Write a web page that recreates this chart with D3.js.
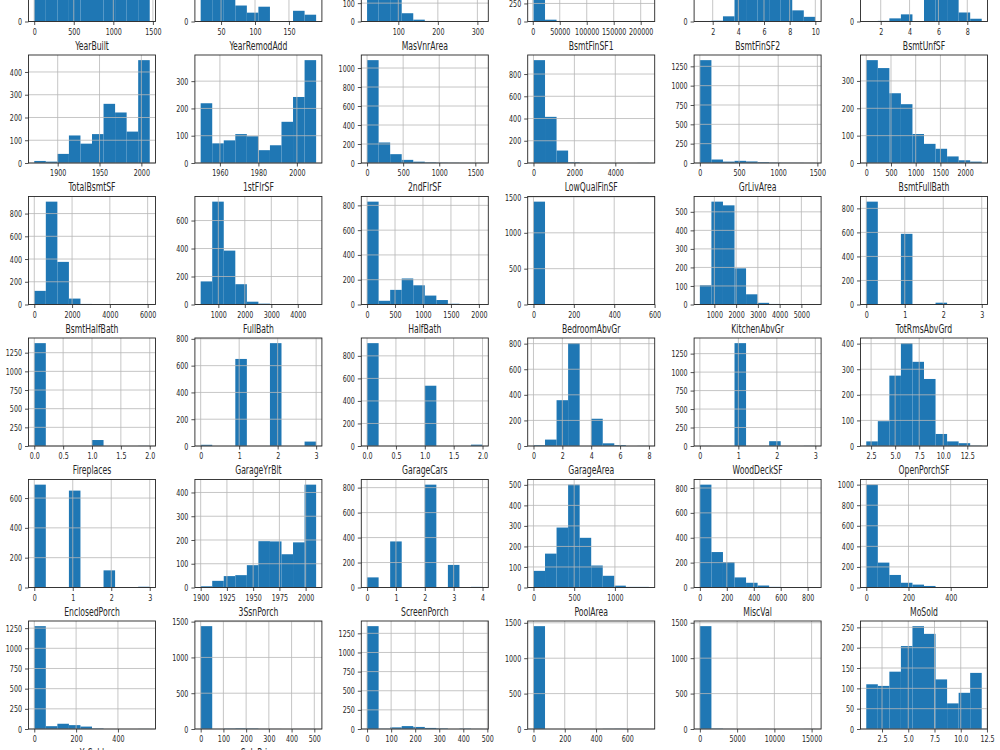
<!DOCTYPE html>
<html><head><meta charset="utf-8">
<script src="https://cdn.jsdelivr.net/npm/d3@7"></script>
<style>body{margin:0;background:#fff}svg{display:block}</style>
</head><body>
<svg id="c" width="1000" height="750"></svg>
<script>
const titles = ["Id","MSSubClass","LotFrontage","LotArea","OverallQual","OverallCond",
"YearBuilt","YearRemodAdd","MasVnrArea","BsmtFinSF1","BsmtFinSF2","BsmtUnfSF",
"TotalBsmtSF","1stFlrSF","2ndFlrSF","LowQualFinSF","GrLivArea","BsmtFullBath",
"BsmtHalfBath","FullBath","HalfBath","BedroomAbvGr","KitchenAbvGr","TotRmsAbvGrd",
"Fireplaces","GarageYrBlt","GarageCars","GarageArea","WoodDeckSF","OpenPorchSF",
"EnclosedPorch","3SsnPorch","ScreenPorch","PoolArea","MiscVal","MoSold",
"YrSold","SalePrice"];

const binMin = [1,20,21,1300,1,1, 1872,1950,0,0,0,0, 0,334,0,0,334,0, 0,0,0,0,0,2, 0,1900,0,0,0,0, 0,0,0,0,0,1, 2006,34900];
const binMax = [1460,190,313,215245,10,9, 2010,2010,1600,5644,1474,2336, 6110,4692,2065,572,5642,3, 2,3,2,8,3,14, 3,2010,4,1418,857,547, 552,508,480,738,15500,12, 2010,755000];

const counts = [
 [146,146,146,146,146,146,146,146,146,146],
 [605,160,359,94,52,87,0,0,63,40],
 [200,560,300,45,10,3,0,0,0,2],
 [1424,25,6,1,0,1,0,2,0,1],
 [2,3,20,116,397,374,319,168,43,18],
 [1,5,25,57,0,821,252,205,72,22],
 [9,6,40,121,85,127,260,222,138,452],
 [219,72,83,106,98,47,65,151,242,377],
 [1083,216,93,33,14,6,3,2,1,1],
 [925,415,112,6,1,0,0,0,0,1],
 [1330,45,18,28,20,10,4,2,2,1],
 [376,347,255,215,106,70,52,24,10,5],
 [120,905,375,52,5,2,0,0,0,1],
 [165,735,385,145,20,6,2,0,1,1],
 [830,30,118,210,155,72,36,6,2,1],
 [1435,1,3,1,2,0,6,1,5,3],
 [104,555,535,195,55,9,3,2,1,1],
 [856,0,0,588,0,0,15,0,0,1],
 [1378,0,0,0,0,80,0,0,0,2],
 [9,0,0,650,0,0,768,0,0,33],
 [913,0,0,0,0,535,0,0,0,12],
 [6,50,358,804,0,213,21,7,0,1],
 [1,0,0,1392,0,0,65,0,0,2],
 [18,97,275,402,329,262,47,18,11,1],
 [690,0,0,650,0,0,115,0,0,5],
 [5,28,48,52,94,195,194,140,190,433],
 [81,0,369,0,0,824,0,181,0,5],
 [81,165,292,501,242,107,57,9,3,3],
 [827,285,205,81,38,16,5,1,1,1],
 [1000,242,122,46,28,15,3,2,1,1],
 [1275,35,65,48,30,6,0,0,0,1],
 [1437,0,5,8,6,1,1,0,1,1],
 [1344,3,21,38,27,14,7,0,5,1],
 [1453,0,0,0,0,0,2,3,1,1],
 [1452,5,1,0,0,1,0,0,0,1],
 [110,106,141,204,253,234,122,63,89,138],
 [314,0,329,0,0,304,0,338,0,175],
 [148,723,373,135,51,19,4,3,2,2]
];

const xTickLabels = [
 ["0","500","1000","1500"],["50","100","150"],["100","200","300"],["0","50000","100000","150000","200000"],["2","4","6","8","10"],["2","4","6","8"],
 ["1900","1950","2000"],["1960","1980","2000"],["0","500","1000","1500"],["0","2000","4000"],["0","500","1000","1500"],["0","500","1000","1500","2000"],
 ["0","2000","4000","6000"],["1000","2000","3000","4000"],["0","500","1000","1500","2000"],["0","200","400","600"],["1000","2000","3000","4000","5000"],["0","1","2","3"],
 ["0.0","0.5","1.0","1.5","2.0"],["0","1","2","3"],["0.0","0.5","1.0","1.5","2.0"],["0","2","4","6","8"],["0","1","2","3"],["2.5","5.0","7.5","10.0","12.5"],
 ["0","1","2","3"],["1900","1925","1950","1975","2000"],["0","1","2","3","4"],["0","500","1000"],["0","200","400","600","800"],["0","200","400"],
 ["0","200","400"],["0","100","200","300","400","500"],["0","100","200","300","400","500"],["0","200","400","600"],["0","5000","10000","15000"],["2.5","5.0","7.5","10.0","12.5"],
 ["2006","2007","2008","2009","2010"],["200000","400000","600000"]
];

const yTickLabels = [
 ["0","50","100","150"],["0","200","400","600"],["0","100","200","300","400","500"],["0","250","500","750","1000","1250"],["0","100","200","300","400"],["0","200","400","600","800"],
 ["0","100","200","300","400"],["0","100","200","300"],["0","200","400","600","800","1000"],["0","200","400","600","800"],["0","250","500","750","1000","1250"],["0","100","200","300"],
 ["0","200","400","600","800"],["0","200","400","600"],["0","200","400","600","800"],["0","500","1000","1500"],["0","100","200","300","400","500"],["0","200","400","600","800"],
 ["0","250","500","750","1000","1250"],["0","200","400","600","800"],["0","200","400","600","800"],["0","200","400","600","800"],["0","250","500","750","1000","1250"],["0","100","200","300","400"],
 ["0","200","400","600"],["0","100","200","300","400"],["0","200","400","600","800"],["0","100","200","300","400","500"],["0","200","400","600","800"],["0","200","400","600","800","1000"],
 ["0","250","500","750","1000","1250"],["0","500","1000","1500"],["0","250","500","750","1000","1250"],["0","500","1000","1500"],["0","500","1000","1500"],["0","50","100","150","200","250"],
 ["0","100","200","300"],["0","200","400","600"]
];

const svg = d3.select("#c");
svg.append("rect").attr("width",1000).attr("height",750).attr("fill","#fff");

const SX = 0.67;          // horizontal squeeze of text
const col0 = 28.5, colStep = 166.4, axW = 127;
const bottom0 = 21.5, rowStep = 141.5, axH = 108;
const tickFont = 9.5, titleFont = 11.5;
const FONT = "DejaVu Sans, sans-serif";

titles.forEach((title, i) => {
  const col = i % 6, row = Math.floor(i / 6);
  const left = col0 + col * colStep, right = left + axW;
  const bottom = bottom0 + row * rowStep, top = bottom - axH;
  const lo = binMin[i], hi = binMax[i], data = counts[i], n = data.length;
  const bw = (hi - lo) / n, pad = (hi - lo) * 0.05;
  const x = d3.scaleLinear().domain([lo - pad, hi + pad]).range([left, right]);
  const y = d3.scaleLinear().domain([0, d3.max(data) * 1.05]).range([bottom, top]);
  const xt = xTickLabels[i], yt = yTickLabels[i];

  const g = svg.append("g");
  // bars
  g.append("g").selectAll("rect").data(data).join("rect")
    .attr("x", (d, k) => x(lo + k * bw))
    .attr("width", (d, k) => x(lo + (k + 1) * bw) - x(lo + k * bw))
    .attr("y", d => y(d))
    .attr("height", d => bottom - y(d))
    .attr("fill", "#1f77b4");
  // grid (drawn above bars like matplotlib)
  const grid = g.append("g").attr("stroke", "#b8b8b8").attr("stroke-width", 0.8);
  grid.selectAll("line.v").data(xt.map(Number)).join("line").attr("class","v")
    .attr("x1", d => x(d)).attr("x2", d => x(d)).attr("y1", top).attr("y2", bottom);
  grid.selectAll("line.h").data(yt.map(Number)).join("line").attr("class","h")
    .attr("y1", d => y(d)).attr("y2", d => y(d)).attr("x1", left).attr("x2", right);
  // spines
  g.append("rect").attr("x", left).attr("y", top).attr("width", axW).attr("height", axH)
    .attr("fill", "none").attr("stroke", "#262626").attr("stroke-width", 0.9);

  // x axis
  const xa = g.append("g").attr("transform", `translate(0,${bottom})`)
    .call(d3.axisBottom(x).tickValues(xt.map(Number)).tickFormat((d, k) => xt[k]).tickSize(3.5).tickPadding(3));
  xa.select(".domain").remove();
  xa.selectAll(".tick line").attr("stroke", "#262626").attr("stroke-width", 0.8);
  xa.selectAll(".tick text").attr("font-family", FONT).attr("font-size", tickFont)
    .attr("fill", "#262626").attr("transform", `scale(${SX},1)`);
  // y axis
  const ya = g.append("g").attr("transform", `translate(${left},0)`)
    .call(d3.axisLeft(y).tickValues(yt.map(Number)).tickFormat((d, k) => yt[k]).tickSize(3.5).tickPadding(3));
  ya.select(".domain").remove();
  ya.selectAll(".tick line").attr("stroke", "#262626").attr("stroke-width", 0.8);
  ya.selectAll(".tick text").attr("font-family", FONT).attr("font-size", tickFont)
    .attr("fill", "#262626").attr("x", -6.5 / SX).attr("transform", `scale(${SX},1)`);

  // title
  g.append("text").attr("transform", `translate(${(left + right) / 2},${top - 5.5}) scale(${SX},1)`)
    .attr("text-anchor", "middle").attr("font-family", FONT).attr("font-size", titleFont)
    .attr("fill", "#262626").text(title);
});
</script>
</body></html>
